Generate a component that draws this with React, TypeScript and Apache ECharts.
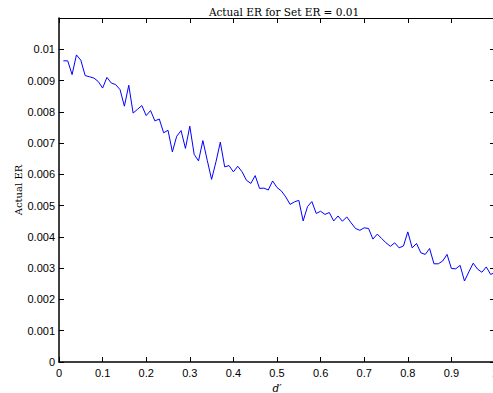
import React, { useEffect, useRef } from "react";
import * as echarts from "echarts";

const dPrime = [
  0.01, 0.02, 0.03, 0.04, 0.05, 0.06, 0.07, 0.08, 0.09, 0.1,
  0.11, 0.12, 0.13, 0.14, 0.15, 0.16, 0.17, 0.18, 0.19, 0.2,
  0.21, 0.22, 0.23, 0.24, 0.25, 0.26, 0.27, 0.28, 0.29, 0.3,
  0.31, 0.32, 0.33, 0.34, 0.35, 0.36, 0.37, 0.38, 0.39, 0.4,
  0.41, 0.42, 0.43, 0.44, 0.45, 0.46, 0.47, 0.48, 0.49, 0.5,
  0.51, 0.52, 0.53, 0.54, 0.55, 0.56, 0.57, 0.58, 0.59, 0.6,
  0.61, 0.62, 0.63, 0.64, 0.65, 0.66, 0.67, 0.68, 0.69, 0.7,
  0.71, 0.72, 0.73, 0.74, 0.75, 0.76, 0.77, 0.78, 0.79, 0.8,
  0.81, 0.82, 0.83, 0.84, 0.85, 0.86, 0.87, 0.88, 0.89, 0.9,
  0.91, 0.92, 0.93, 0.94, 0.95, 0.96, 0.97, 0.98, 0.99, 1.0,
];

const actualER = [
  0.00963, 0.00963, 0.00919, 0.00982, 0.00965, 0.00916, 0.00912, 0.00908, 0.00897, 0.00876,
  0.0091, 0.00892, 0.00887, 0.00871, 0.00818, 0.00885, 0.00796, 0.00808, 0.0082, 0.00788,
  0.00804, 0.00771, 0.00777, 0.00733, 0.00741, 0.00672, 0.00722, 0.0074, 0.00683, 0.00754,
  0.00664, 0.00643, 0.00708, 0.00645, 0.00584, 0.0064, 0.00703, 0.00624, 0.00628, 0.00608,
  0.00626, 0.00608, 0.00581, 0.00571, 0.00596, 0.00555, 0.00556, 0.0055, 0.00579, 0.00558,
  0.00547, 0.00528, 0.00504, 0.00512, 0.00517, 0.00451, 0.00497, 0.00513, 0.00475, 0.00482,
  0.00472, 0.00478, 0.00451, 0.00467, 0.0045, 0.00464, 0.00445, 0.00427, 0.00421, 0.00429,
  0.00427, 0.00393, 0.00409, 0.00395, 0.00381, 0.0037, 0.00381, 0.00365, 0.00371, 0.00416,
  0.00365, 0.00379, 0.00349, 0.00344, 0.00363, 0.00314, 0.00314, 0.00323, 0.00344, 0.00299,
  0.00298, 0.00309, 0.00259, 0.00288, 0.00316, 0.00297, 0.00287, 0.00304, 0.0028, 0.00286,
];

const titleText = "Actual ER for Set ER = 0.01";
const xName = "d\u2032";
const yName = "Actual ER";

export default function App() {
  const ref = useRef<HTMLDivElement>(null);
  useEffect(() => {
    if (!ref.current) return;
    const chart = echarts.init(ref.current, null, { renderer: "svg" });
    const tickFont = { fontFamily: "Liberation Sans, Arial, sans-serif", fontSize: 11, color: "#000" };
    const serif = "DejaVu Serif, Liberation Serif, serif";
    const axisLine = { show: true, onZero: false, lineStyle: { color: "#000", width: 1 } };
    const axisTick = { show: true, inside: true, length: 5, lineStyle: { color: "#000", width: 1 } };
    chart.setOption({
      animation: false,
      backgroundColor: "#fff",
      title: {
        text: titleText,
        left: 279,
        textAlign: "center",
        top: 1,
        textStyle: { fontFamily: serif, fontSize: 10.5, fontWeight: "normal", color: "#000" },
      },
      grid: {
        left: 59,
        top: 18,
        width: 436,
        height: 344,
        containLabel: false,
        outerBoundsMode: "none",
      },
      xAxis: [
        {
          type: "value",
          min: 0,
          max: 1,
          interval: 0.1,
          position: "bottom",
          axisLine: { ...axisLine, lineStyle: { color: "#000", width: 1.5 } },
          axisTick,
          splitLine: { show: false },
          axisLabel: {
            ...tickFont,
            margin: 5,
            formatter: (v: number) => String(Number(v.toFixed(1))),
          },
          name: xName,
          nameLocation: "middle",
          nameGap: 20,
          nameMoveOverlap: false,
          nameTextStyle: { fontFamily: serif, fontStyle: "italic", fontSize: 10.5, color: "#000" },
        },
        {
          type: "value",
          min: 0,
          max: 1,
          interval: 0.1,
          position: "top",
          axisLine,
          axisTick,
          splitLine: { show: false },
          axisLabel: { show: false },
        },
      ],
      yAxis: [
        {
          type: "value",
          min: 0,
          max: 0.011,
          interval: 0.001,
          position: "left",
          axisLine: { ...axisLine, lineStyle: { color: "#000", width: 1.5 } },
          axisTick,
          splitLine: { show: false },
          axisLabel: {
            ...tickFont,
            margin: 4,
            formatter: (v: number) => (v > 0.0105 ? "" : String(Number(v.toFixed(3)))),
          },
          name: yName,
          nameLocation: "middle",
          nameGap: 36,
          nameMoveOverlap: false,
          nameRotate: 90,
          nameTextStyle: { fontFamily: serif, fontSize: 10, color: "#000" },
        },
        {
          type: "value",
          min: 0,
          max: 0.011,
          interval: 0.001,
          position: "right",
          axisLine,
          axisTick,
          splitLine: { show: false },
          axisLabel: { show: false },
        },
      ],
      series: [
        {
          type: "line",
          xAxisIndex: 0,
          yAxisIndex: 0,
          data: dPrime.map((d, i) => [d, actualER[i]]),
          showSymbol: false,
          symbol: "none",
          lineStyle: { color: "#0000ff", width: 1 },
          itemStyle: { color: "#0000ff" },
        },
      ],
    });
    return () => chart.dispose();
  }, []);
  return (
    <div
      ref={ref}
      style={{ position: "absolute", left: 0, top: 0, width: 493, height: 393, overflow: "hidden" }}
    />
  );
}
